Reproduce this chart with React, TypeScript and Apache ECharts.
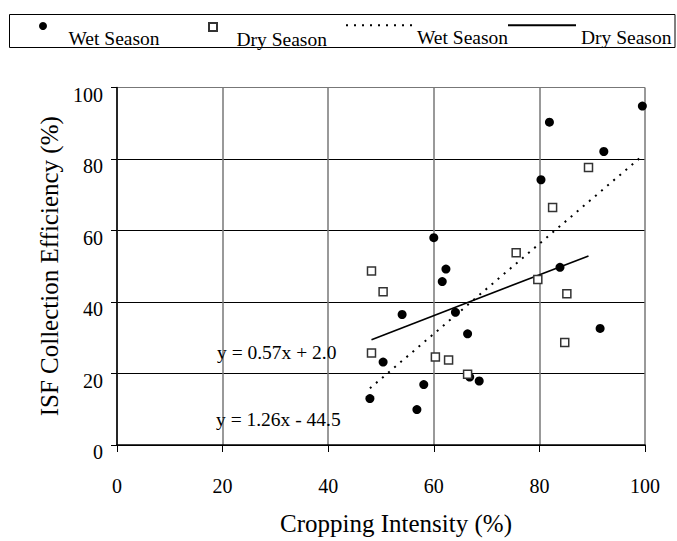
import React, { useEffect, useRef } from "react";
import * as echarts from "echarts";

// ---- data ----
const WET_X = [99.5, 81.9, 92.2, 80.3, 60.0, 62.3, 83.9, 61.6, 54.0, 64.1, 66.4, 91.5, 50.4, 47.9, 58.1, 56.8, 68.6, 66.8];
const WET_Y = [94.8, 90.3, 82.1, 74.2, 58.0, 49.2, 49.7, 45.7, 36.5, 37.1, 31.1, 32.6, 23.2, 13.0, 16.9, 9.9, 17.9, 19.0];
const DRY_X = [48.2, 50.4, 48.2, 89.3, 82.5, 75.6, 79.7, 85.2, 84.8, 60.3, 62.8, 66.4];
const DRY_Y = [48.7, 42.9, 25.7, 77.6, 66.4, 53.8, 46.3, 42.3, 28.7, 24.6, 23.8, 19.8];
// linear fits: [slope, intercept]
const WET_FIT = [1.26, -44.5];
const DRY_FIT = [0.57, 2.0];
const EQUATIONS = ["y = 0.57x + 2.0", "y = 1.26x - 44.5"];
const SERIES_NAMES = ["Wet Season", "Dry Season", "Wet Season fit", "Dry Season fit"];
const X_TITLE = "Cropping Intensity (%)";
const Y_TITLE = "ISF Collection Efficiency (%)";

const FONT = '"Liberation Serif", "Times New Roman", serif';

function fitLine(xs: number[], fit: number[]) {
  const x0 = Math.min(...xs);
  const x1 = Math.max(...xs);
  return [
    [x0, fit[0] * x0 + fit[1]],
    [x1, fit[0] * x1 + fit[1]],
  ];
}

function legendItem(name: string, left: number, itemWidth: number, icon?: string) {
  const isLine = name.endsWith(" fit");
  const d: any = { name };
  if (icon) d.icon = icon;
  if (isLine) d.itemStyle = { opacity: 0, color: "rgba(0,0,0,0)", borderWidth: 0 };
  return {
    left,
    top: 22,
    padding: 0,
    itemWidth,
    itemHeight: 8,
    selectedMode: false,
    data: [d],
    formatter: (n: string) => `{t|${n.replace(" fit", "")}}`,
    textStyle: {
      rich: {
        t: { fontFamily: FONT, fontSize: 19.5, color: "#000", padding: [24, 0, 0, 0] },
      },
    },
  };
}

export default function App() {
  const ref = useRef<HTMLDivElement>(null);
  useEffect(() => {
    if (!ref.current) return;
    const chart = echarts.init(ref.current, null, { renderer: "svg" });
    const wetPts = WET_X.map((x, i) => [x, WET_Y[i]]);
    const dryPts = DRY_X.map((x, i) => [x, DRY_Y[i]]);
    chart.setOption({
      animation: false,
      backgroundColor: "#fff",
      textStyle: { fontFamily: FONT },
      grid: { left: 117, right: 32, top: 87.5, bottom: 93.3, containLabel: false },
      legend: [
        legendItem(SERIES_NAMES[0], 39, 41, "circle"),
        legendItem(SERIES_NAMES[1], 208, 37, "path://M0,0L10,0L10,10L0,10Z"),
        legendItem(SERIES_NAMES[2], 345, 66),
        legendItem(SERIES_NAMES[3], 507, 68),
      ],
      xAxis: {
        type: "value",
        min: 0,
        max: 100,
        interval: 20,
        name: X_TITLE,
        nameLocation: "middle",
        nameGap: 66,
        nameTextStyle: { fontFamily: FONT, fontSize: 25, color: "#000", padding: [0, 0, 0, 30] },
        axisLine: { onZero: false, lineStyle: { color: "#000", width: 1.5 } },
        axisTick: { show: true, inside: false, length: 7, lineStyle: { color: "#000", width: 1 } },
        axisLabel: { margin: 31, fontFamily: FONT, fontSize: 20, color: "#000" },
        splitLine: { show: true, lineStyle: { color: "#777", width: 1.5 } },
      },
      yAxis: {
        type: "value",
        min: 0,
        max: 100,
        interval: 20,
        name: Y_TITLE,
        nameLocation: "middle",
        nameGap: 54,
        nameTextStyle: { fontFamily: FONT, fontSize: 25, color: "#000" },
        axisLine: { show: true, onZero: false, lineStyle: { color: "#000", width: 1.5 } },
        axisTick: { show: true, inside: false, length: 6, lineStyle: { color: "#000", width: 1 } },
        axisLabel: {
          margin: 14,
          verticalAlign: "middle",
          formatter: "{v|{value}}",
          rich: {
            v: { fontFamily: FONT, fontSize: 20, color: "#000", padding: [14, 0, 0, 0] },
          },
        },
        splitLine: {
          show: true,
          lineStyle: { color: ["#000", "#000", "#000", "#000", "#000", "#777"], width: 1 },
        },
      },
      series: [
        {
          name: SERIES_NAMES[2],
          type: "line",
          data: fitLine(WET_X, WET_FIT),
          symbol: "none",
          silent: true,
          lineStyle: { color: "#000", width: 2, type: [2, 6] },
          itemStyle: { color: "#000" },
          z: 2,
        },
        {
          name: SERIES_NAMES[3],
          type: "line",
          data: fitLine(DRY_X, DRY_FIT),
          symbol: "none",
          silent: true,
          lineStyle: { color: "#000", width: 1.6, type: "solid" },
          itemStyle: { color: "#000" },
          z: 2,
        },
        {
          name: SERIES_NAMES[0],
          type: "scatter",
          data: wetPts,
          symbol: "circle",
          symbolSize: 9,
          itemStyle: { color: "#000", opacity: 1 },
          z: 3,
        },
        {
          name: SERIES_NAMES[1],
          type: "scatter",
          data: dryPts,
          symbol: "rect",
          symbolSize: 8,
          itemStyle: { color: "#fff", borderColor: "#333", borderWidth: 1.5, opacity: 1 },
          z: 4,
        },
      ],
      graphic: [
        {
          type: "rect",
          shape: { x: 9.5, y: 14.5, width: 665.5, height: 33 },
          style: { fill: "none", stroke: "#000", lineWidth: 1 },
          z: -1,
        },
        {
          type: "text",
          x: 217,
          y: 352,
          style: { text: EQUATIONS[0], font: `19.5px ${FONT}`, fill: "#000", verticalAlign: "middle" },
          z: 10,
        },
        {
          type: "text",
          x: 216,
          y: 419,
          style: { text: EQUATIONS[1], font: `19.5px ${FONT}`, fill: "#000", verticalAlign: "middle" },
          z: 10,
        },
      ],
    });
    return () => chart.dispose();
  }, []);
  return (
    <div
      ref={ref}
      style={{ position: "fixed", left: 0, top: 0, width: 677, height: 541, background: "#fff" }}
    />
  );
}
